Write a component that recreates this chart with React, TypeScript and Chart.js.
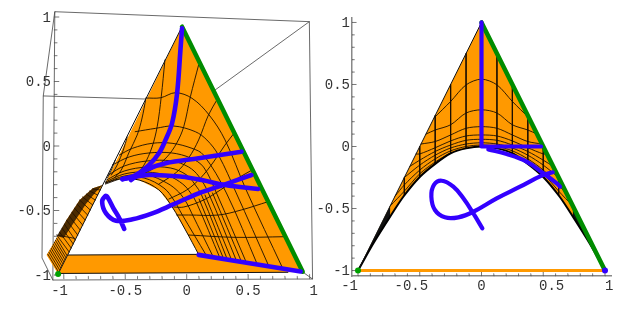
import React, { useEffect, useRef } from "react";
import { Chart, registerables } from "chart.js";
Chart.register(...registerables);

type P = [number, number];
const tickValues = [-1, -0.5, 0, 0.5, 1];
const minorTicks = [-0.9, -0.8, -0.7, -0.6, -0.4, -0.3, -0.2, -0.1, 0.1, 0.2, 0.3, 0.4, 0.6, 0.7, 0.8, 0.9];
const leftXLabels = ["-1 ", "-0.5", "0", "0.5", " 1"];
const rightXLabels = ["-1  ", "-0.5  ", "0", "  0.5", " 1"];
const yLabels = ["-1", "-0.5", "0", "0.5", "1"];

// ---------- left panel: the projected 3D view ----------
const boxLines: P[][] = [
  [[-1.073, 1.041], [0.998, 0.964], [1.024, -1.031], [-1.089, -1.039], [-1.177, -0.868], [-1.167, 0.388], [-1.073, 1.041], [-1.089, -1.039]],
  [[-1.167, 0.388], [-0.333, 0.364]],
  [[0.998, 0.964], [0.231, 0.434]],
  [[0.944, -0.977], [1.024, -1.031]],
];
const leftEdge: P[] = [[-0.038, 0.925], [-1.046, -0.992]];
const greenEdgeL: P[] = [[-0.038, 0.925], [0.944, -0.974]];
const archL: P[] = [[-0.661, -0.287], [-0.548, -0.256], [-0.387, -0.264], [-0.226, -0.341], [-0.119, -0.471], [-0.01, -0.651], [0.097, -0.84]];
const surfaceL: P[] = [[-0.038, 0.925], [0.944, -0.974], ...archL.slice().reverse()];
const wedgeL: P[] = [[-0.683, -0.302], [-0.764, -0.328], [-0.871, -0.419], [-0.978, -0.574], [-1.059, -0.716], [-1.14, -0.845], [-1.046, -0.992]];
const wedgeDark: P[] = [[-0.683, -0.302], [-0.764, -0.328], [-0.871, -0.419], [-0.978, -0.574], [-1.056, -0.698], [-1.0, -0.713], [-0.915, -0.589], [-0.82, -0.45], [-0.74, -0.357]];
const ribbonL: P[] = [[-0.965, -0.845], [0.097, -0.84], [0.944, -0.974], [0.823, -0.979], [-1.046, -0.988]];
const ribbonEdges: P[][] = [
  [[-0.965, -0.845], [0.097, -0.84]],
  [[-1.046, -0.988], [0.823, -0.979]],
];
const wedgeHatch: P[][] = [
  [[-1.131, -0.837], [-1.041, -0.979]], [[-1.122, -0.822], [-1.032, -0.964]], [[-1.113, -0.806], [-1.023, -0.948]],
  [[-1.104, -0.791], [-1.014, -0.933]], [[-1.095, -0.775], [-1.005, -0.917]], [[-1.087, -0.76], [-0.997, -0.902]],
  [[-1.078, -0.744], [-0.988, -0.886]], [[-1.069, -0.729], [-0.979, -0.871]], [[-1.06, -0.713], [-0.97, -0.855]],
  [[-1.052, -0.698], [-0.956, -0.822]], [[-1.035, -0.667], [-0.94, -0.791]], [[-1.015, -0.636], [-0.923, -0.76]],
  [[-0.996, -0.605], [-0.907, -0.729]], [[-0.978, -0.574], [-0.887, -0.69]], [[-0.956, -0.543], [-0.867, -0.651]],
  [[-0.935, -0.512], [-0.847, -0.612]], [[-0.914, -0.481], [-0.826, -0.574]], [[-0.893, -0.45], [-0.806, -0.535]],
  [[-0.871, -0.419], [-0.785, -0.496]], [[-0.847, -0.395], [-0.765, -0.457]], [[-0.819, -0.372], [-0.744, -0.419]],
  [[-0.79, -0.349], [-0.724, -0.38]], [[-0.766, -0.333], [-0.703, -0.341]],
  [[-1.059, -0.69], [-0.911, -0.716]],
];
const arcsL: P[][] = [
  [[-0.333, 0.372], [-0.212, 0.374], [-0.091, 0.413], [0.043, 0.37], [0.183, 0.24], [0.312, 0.047], [0.484, -0.341], [0.782, -0.95]],
  [[-0.419, 0.111], [-0.252, 0.137], [-0.105, 0.155], [0.07, 0.111], [0.164, 0.047], [0.258, -0.07], [0.403, -0.364], [0.669, -0.933]],
  [[-0.548, -0.07], [-0.441, -0.018], [-0.28, 0.021], [-0.119, 0.021], [0.043, -0.018], [0.137, -0.07], [0.323, -0.364], [0.575, -0.919]],
  [[-0.605, -0.147], [-0.468, -0.085], [-0.306, -0.054], [-0.121, -0.054], [0.032, -0.093], [0.137, -0.163], [0.242, -0.364], [0.486, -0.905]],
  [[-0.637, -0.225], [-0.508, -0.155], [-0.323, -0.116], [-0.121, -0.116], [0.016, -0.163], [0.097, -0.233], [0.177, -0.364], [0.406, -0.892]],
  [[-0.653, -0.264], [-0.508, -0.194], [-0.323, -0.163], [-0.129, -0.171], [0, -0.225], [0.065, -0.295], [0.121, -0.38], [0.331, -0.881]],
  [[-0.661, -0.279], [-0.508, -0.217], [-0.323, -0.202], [-0.145, -0.233], [-0.032, -0.295], [0.032, -0.364], [0.081, -0.442], [0.272, -0.872]],
  [[-0.661, -0.287], [-0.508, -0.233], [-0.323, -0.225], [-0.161, -0.287], [-0.065, -0.357], [0, -0.442], [0.04, -0.519], [0.218, -0.864]],
  [[-0.661, -0.295], [-0.508, -0.248], [-0.347, -0.248], [-0.185, -0.326], [-0.105, -0.419], [-0.04, -0.527], [0.164, -0.855]],
  [[0.21, -0.364], [0.446, -0.898]],
  [[0.149, -0.38], [0.367, -0.887]],
  [[0.101, -0.411], [0.301, -0.876]],
];
const crossL: P[][] = [
  [[0.097, 0.628], [0.03, 0.382], [-0.024, 0.15], [-0.081, 0.023], [-0.161, -0.085], [-0.29, -0.186], [-0.468, -0.248]],
  [[0.25, 0.364], [0.177, 0.24], [0.097, 0.047], [0.016, -0.093], [-0.081, -0.202], [-0.226, -0.295]],
  [[0.387, 0.101], [0.312, 0.008], [0.218, -0.124], [0.113, -0.248], [0, -0.341], [-0.145, -0.411]],
  [[0.532, -0.186], [0.419, -0.248], [0.274, -0.341], [0.137, -0.419], [-0.024, -0.473], [-0.105, -0.473]],
  [[0.661, -0.432], [0.444, -0.496], [0.258, -0.535], [0.016, -0.535], [-0.081, -0.535]],
  [[0.798, -0.703], [0.393, -0.708], [0.016, -0.69]],
  [[-0.177, 0.667], [-0.207, 0.382], [-0.24, 0.15], [-0.282, -0.008], [-0.347, -0.147], [-0.427, -0.248]],
  [[-0.333, 0.364], [-0.363, 0.217], [-0.403, 0.085], [-0.468, -0.047], [-0.532, -0.186], [-0.589, -0.248]],
  [[-0.484, 0.07], [-0.516, -0.031], [-0.565, -0.147], [-0.613, -0.225]],
  [[-0.581, -0.109], [-0.613, -0.186], [-0.645, -0.248]],
];
const blueL: P[][] = [
  [[-0.038, 0.912], [-0.051, 0.744], [-0.078, 0.409], [-0.119, 0.176], [-0.172, 0.047], [-0.226, -0.057], [-0.306, -0.147], [-0.414, -0.225], [-0.522, -0.258]],
  [[0.446, -0.044], [0.097, -0.095], [-0.172, -0.134], [-0.333, -0.186], [-0.454, -0.264]],
  [[-0.524, -0.256], [-0.306, -0.225], [-0.038, -0.238], [0.123, -0.264], [0.312, -0.302], [0.581, -0.333]],
  [[-0.508, -0.643], [-0.548, -0.56], [-0.597, -0.481], [-0.645, -0.395], [-0.661, -0.388], [-0.688, -0.432], [-0.656, -0.522], [-0.575, -0.579], [-0.441, -0.568], [-0.28, -0.522], [-0.119, -0.457], [0.097, -0.367], [0.312, -0.297], [0.527, -0.225]],
  [[0.097, -0.844], [0.927, -0.973]],
];
const greenDotL: P[] = [[-1.046, -0.992]];

// ---------- right panel: the flat projection ----------
const archR: P[] = [[-1, -1], [-0.875, -0.78], [-0.74, -0.566], [-0.633, -0.405], [-0.498, -0.244], [-0.375, -0.14], [-0.25, -0.055], [-0.125, -0.015], [0, 0], [0.125, -0.015], [0.25, -0.055], [0.375, -0.14], [0.498, -0.244], [0.633, -0.405], [0.74, -0.566], [0.875, -0.78], [1, -1]];
const surfaceR: P[] = [[0, 1], ...archR];
const rowsR: P[][] = [
  [[-0.385, 0.23], [-0.25, 0.363], [-0.125, 0.497], [0, 0.543], [0.125, 0.497], [0.25, 0.363], [0.385, 0.23]],
  [[-0.45, 0.1], [-0.375, 0.133], [-0.25, 0.175], [-0.125, 0.27], [0, 0.296], [0.125, 0.27], [0.25, 0.175], [0.375, 0.133], [0.45, 0.1]],
  [[-0.49, 0.02], [-0.375, 0.04], [-0.25, 0.093], [-0.125, 0.147], [0, 0.16], [0.125, 0.147], [0.25, 0.093], [0.375, 0.04], [0.49, 0.02]],
  [[-0.53, -0.06], [-0.5, -0.06], [-0.375, -0.01], [-0.25, 0.045], [-0.125, 0.085], [0, 0.093], [0.125, 0.085], [0.25, 0.045], [0.375, -0.01], [0.5, -0.06], [0.53, -0.06]],
  [[-0.58, -0.16], [-0.5, -0.11], [-0.375, -0.04], [-0.25, 0.012], [-0.125, 0.05], [0, 0.058], [0.125, 0.05], [0.25, 0.012], [0.375, -0.04], [0.5, -0.11], [0.58, -0.16]],
  [[-0.625, -0.25], [-0.5, -0.15], [-0.375, -0.07], [-0.25, -0.012], [-0.125, 0.02], [0, 0.03], [0.125, 0.02], [0.25, -0.012], [0.375, -0.07], [0.5, -0.15], [0.625, -0.25]],
  [[-0.7, -0.4], [-0.625, -0.31], [-0.5, -0.19], [-0.375, -0.1], [-0.25, -0.035], [-0.125, 0], [0, 0.012], [0.125, 0], [0.25, -0.035], [0.375, -0.1], [0.5, -0.19], [0.625, -0.31], [0.7, -0.4]],
  [[-0.74, -0.48], [-0.625, -0.36], [-0.5, -0.22], [-0.375, -0.125], [-0.25, -0.05]],
  [[0.25, -0.05], [0.375, -0.125], [0.5, -0.22], [0.625, -0.36], [0.74, -0.48]],
];
const columnsR: P[][] = [
  [[-0.625, -0.25], [-0.625, -0.395]], [[-0.5, 0], [-0.5, -0.245]], [[-0.375, 0.25], [-0.375, -0.14]], [[-0.25, 0.5], [-0.25, -0.055]], [[-0.125, 0.75], [-0.125, -0.015]],
  [[0.125, 0.75], [0.125, -0.015]], [[0.25, 0.5], [0.25, -0.055]], [[0.375, 0.25], [0.375, -0.14]], [[0.5, 0], [0.5, -0.245]], [[0.625, -0.25], [0.625, -0.395]],
];
const darkTips: P[][] = [
  [[-1, -1], [-0.74, -0.48], [-0.74, -0.566], [-0.875, -0.78]],
  [[1, -1], [0.74, -0.48], [0.74, -0.566], [0.875, -0.78]],
];
const leftEdgeR: P[] = [[0, 1], [-1, -1]];
const greenEdgeR: P[] = [[0, 1], [1, -1]];
const orangeBase: P[] = [[-1, -1], [1, -1]];
const blueStraightR: P[][] = [
  [[0, 1], [0, 0], [0.482, 0]],
];
const blueCurvedR: P[][] = [
  [[0.055, -0.023], [0.204, -0.06], [0.366, -0.122], [0.5, -0.216], [0.609, -0.297], [0.636, -0.325]],
  [[0.007, -0.66], [-0.066, -0.539], [-0.147, -0.418], [-0.228, -0.324], [-0.322, -0.276], [-0.385, -0.31], [-0.406, -0.405], [-0.377, -0.512], [-0.296, -0.571], [-0.188, -0.571], [-0.066, -0.526], [0.123, -0.418], [0.312, -0.324], [0.487, -0.235], [0.577, -0.208]],
];
const greenDotR: P[] = [[-1, -1]];
const blueDotR: P[] = [[1, -1]];

const ORANGE = "#ff9900";
const GREEN = "#008c00";
const BLUE = "#3300ff";
const MESH = "#1a0f00";

const pts = (a: P[]) => a.map(([x, y]) => ({ x, y }));
const line = (a: P[], color: string, width: number, tension = 0) => ({
  data: pts(a), showLine: true, borderColor: color, borderWidth: width, pointRadius: 0, fill: false, tension,
  clip: false, borderCapStyle: "round", borderJoinStyle: "round",
});
const poly = (a: P[], color: string) => ({
  data: pts(a), showLine: true, borderWidth: 0, borderColor: color, backgroundColor: color, pointRadius: 0, fill: "shape", clip: false,
});
const dot = (a: P[], color: string, r: number) => ({
  data: pts(a), showLine: false, pointRadius: r, pointBackgroundColor: color, pointBorderWidth: 0, clip: false,
});
const tickSegs = (vals: number[], make: (v: number) => P[]) => vals.map((v) => line(make(v), "#555", 0.8));

function makeChart(cv: HTMLCanvasElement, datasets: any[], cfg: any) {
  const fontT = { family: "'Liberation Mono', monospace", size: 14 };
  return new Chart(cv, {
    type: "scatter",
    data: { datasets: datasets.slice().reverse() },
    options: {
      animation: false, responsive: false, events: [],
      layout: { padding: cfg.padding, autoPadding: false },
      plugins: { legend: { display: false }, tooltip: { enabled: false } },
      scales: {
        x: {
          type: "linear", min: cfg.xMin, max: cfg.xMax,
          afterBuildTicks: (s: any) => { s.ticks = tickValues.map((value) => ({ value })); },
          afterFit: (s: any) => { s.height = cfg.xH; },
          grid: { display: false, drawTicks: false },
          border: cfg.border,
          ticks: { autoSkip: false, maxRotation: 0, padding: cfg.xPad, color: "#333", font: fontT,
            callback: (v: number) => cfg.xLabels[tickValues.indexOf(v)] },
        },
        y: {
          type: "linear", min: cfg.yMin, max: cfg.yMax,
          afterBuildTicks: (s: any) => { s.ticks = tickValues.map((value) => ({ value })); },
          afterFit: (s: any) => { s.width = cfg.yW; },
          grid: { display: false, drawTicks: false },
          border: cfg.border,
          ticks: { autoSkip: false, padding: cfg.yPad, color: "#333", font: fontT, labelOffset: 1,
            mirror: cfg.yMirror, crossAlign: cfg.yMirror ? "far" : "near",
            callback: (v: number) => yLabels[tickValues.indexOf(v)] },
        },
      },
    } as any,
  } as any);
}

export default function App() {
  const a = useRef<HTMLCanvasElement>(null);
  const b = useRef<HTMLCanvasElement>(null);
  useEffect(() => {
    const left = [
      ...boxLines.map((l) => line(l, "#444", 0.8)),
      ...tickSegs(tickValues, (v) => [[-1.08, v], [-1.04, v]]),
      ...tickSegs(minorTicks, (v) => [[-1.08, v], [-1.055, v]]),
      ...tickSegs(tickValues, (v) => [[v, -1.03], [v, -0.995]]),
      ...tickSegs(minorTicks, (v) => [[v, -1.03], [v, -1.01]]),
      poly(wedgeL, ORANGE),
      poly(wedgeDark, "rgba(30,15,0,0.8)"),
      ...wedgeHatch.map((l) => line(l, "#221100", 0.85)),
      poly(ribbonL, ORANGE),
      ...ribbonEdges.map((l) => line(l, "#111", 1)),
      poly(surfaceL, ORANGE),
      ...arcsL.map((l) => line(l, MESH, 0.9, 0.35)),
      ...crossL.map((l) => line(l, MESH, 0.9, 0.35)),
      line(archL, "#1a1000", 1, 0.35),
      line(leftEdge, "#111", 1),
      line(greenEdgeL, GREEN, 4.5),
      ...blueL.map((l) => line(l, BLUE, 4.6, 0.35)),
      dot(greenDotL, "#00a000", 3),
    ];
    const right = [
      ...tickSegs(tickValues, (v) => [[-1.0486, v], [-1.015, v]]),
      ...tickSegs(minorTicks, (v) => [[-1.0486, v], [-1.03, v]]),
      ...tickSegs(tickValues, (v) => [[v, -1.044], [v, -1.01]]),
      ...tickSegs(minorTicks, (v) => [[v, -1.044], [v, -1.025]]),
      line(orangeBase, ORANGE, 3),
      poly(surfaceR, ORANGE),
      ...rowsR.map((l) => line(l, MESH, 0.9, 0.3)),
      ...columnsR.map((l) => line(l, MESH, 0.9)),
      ...darkTips.map((l) => poly(l, "#111")),
      line(archR, "#000", 2, 0.3),
      line(leftEdgeR, "#111", 1),
      line(greenEdgeR, GREEN, 4.5),
      ...blueStraightR.map((l) => line(l, BLUE, 4.2)),
      ...blueCurvedR.map((l) => line(l, BLUE, 4.2, 0.4)),
      dot(greenDotR, "#00a000", 3),
      dot(blueDotR, BLUE, 3),
    ];
    const c1 = makeChart(a.current!, left, {
      padding: 0, xMin: -1.1935, xMax: 1.0645, yMin: -1.0465, yMax: 1.1318, xH: 29, yW: 40, xPad: 2, yPad: -22.6, yMirror: true,
      xLabels: leftXLabels, border: { display: false },
    });
    const c2 = makeChart(b.current!, right, {
      padding: { top: 17.5, right: 20 }, xMin: -1.0486, xMax: 1.0486, yMin: -1.044, yMax: 1.04, xH: 34, yW: 38, xPad: 2, yPad: 2, yMirror: false,
      xLabels: rightXLabels, border: { display: true, color: "#888", width: 1.5 },
    });
    return () => { c1.destroy(); c2.destroy(); };
  }, []);
  return (
    <div style={{ position: "fixed", left: 0, top: 0, width: 631, height: 310, background: "#fff" }}>
      <canvas ref={a} width={320} height={310} style={{ position: "absolute", left: 0, top: 0 }} />
      <canvas ref={b} width={317} height={310} style={{ position: "absolute", left: 314, top: 0 }} />
    </div>
  );
}
